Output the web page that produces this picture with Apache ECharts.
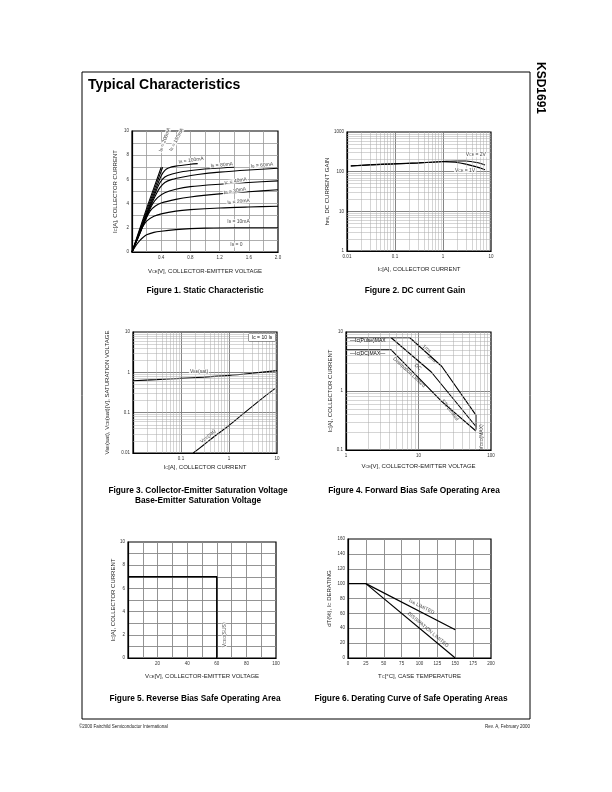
<!DOCTYPE html>
<html><head><meta charset="utf-8">
<script src="https://cdn.jsdelivr.net/npm/echarts/dist/echarts.min.js"></script>
<style>html,body{margin:0;padding:0;background:#fff}#c{width:612px;height:792px}</style>
</head><body><div id="c"></div>
<script>
const FONT = '"Liberation Sans", Arial, Helvetica, sans-serif';

// ---- Figure 1: static characteristic (VCE [V], IC [A]) ----
const ib10  = [[0,0],[0.05,0.5],[0.1,0.9],[0.15,1.2],[0.2,1.42],[0.3,1.62],[0.4,1.72],[0.6,1.85],[0.8,1.93],[1.0,1.97],[1.4,2.0],[2.0,2.0]];
const ib20  = [[0,0],[0.08,1.2],[0.13,1.9],[0.2,2.55],[0.3,2.95],[0.4,3.15],[0.6,3.38],[0.8,3.5],[1.2,3.64],[1.6,3.72],[2.0,3.78]];
const ib30  = [[0,0],[0.1,1.4],[0.18,2.6],[0.25,3.4],[0.32,3.8],[0.4,4.05],[0.6,4.35],[0.8,4.55],[1.2,4.8],[1.6,4.98],[2.0,5.15]];
const ib40  = [[0,0],[0.1,1.45],[0.2,2.9],[0.28,3.95],[0.35,4.5],[0.45,4.9],[0.6,5.18],[0.8,5.4],[1.2,5.6],[1.6,5.75],[2.0,5.88]];
const ib60  = [[0,0],[0.1,1.5],[0.2,3.0],[0.3,4.4],[0.38,5.3],[0.45,5.75],[0.55,6.0],[0.7,6.2],[0.9,6.4],[1.2,6.6],[1.6,6.78],[2.0,6.92]];
const ib80  = [[0,0],[0.1,1.55],[0.2,3.1],[0.3,4.6],[0.38,5.7],[0.45,6.2],[0.55,6.45],[0.7,6.65],[0.9,6.8],[1.1,6.9],[1.4,7.0]];
const ib100 = [[0,0],[0.1,1.6],[0.2,3.2],[0.3,4.8],[0.4,6.3],[0.45,6.75],[0.5,6.95],[0.6,7.1],[0.8,7.25],[0.9,7.3]];
const ib150 = [[0,0],[0.1,1.7],[0.2,3.4],[0.3,5.05],[0.42,7.0]];
const ib200 = [[0,0],[0.1,1.8],[0.2,3.6],[0.3,5.3],[0.4,7.0]];
const fig1Curves = [ib10, ib20, ib30, ib40, ib60, ib80, ib100, ib150, ib200];

// ---- Figure 2: DC current gain ----
const hfe2V = [[0.012,140],[0.03,150],[0.1,158],[0.3,167],[1,180],[2,186],[3,185],[5,170],[7.5,148]];
const hfe1V = [[0.012,139],[0.03,148],[0.1,157],[0.3,165],[1,178],[1.8,172],[3,155],[5,132],[7.5,112]];

// ---- Figure 3: saturation voltages ----
const vbeSat = [[0.01,0.62],[0.03,0.66],[0.1,0.71],[0.3,0.76],[1,0.84],[3,0.95],[10,1.1]];
const vceSat = [[0.18,0.01],[0.3,0.016],[0.5,0.026],[1,0.048],[2,0.095],[5,0.23],[9.2,0.4]];

// ---- Figure 4: forward bias SOA ----
const soa1ms = [[1,8],[7.6,8],[21,2.6],[62,0.39],[62,0.22]];
const soa5ms = [[4.2,8],[15,2.1],[62,0.25]];
const soaDC  = [[1,5],[4.2,5],[21,0.66],[62,0.21]];

// ---- Figure 5: reverse bias SOA ----
const rbsoa = [[0,7],[60,7],[60,0]];

// ---- Figure 6: derating ----
const derSb   = [[0,100],[25,100],[150,38]];
const derDiss = [[25,100],[150,0]];

const G = [
  {left:132, top:131, width:146, height:121},
  {left:347, top:132, width:144, height:119},
  {left:133, top:332, width:144, height:121},
  {left:346, top:332, width:145, height:118},
  {left:128, top:542, width:148, height:116},
  {left:348, top:539, width:143, height:119}
];

const nameRich = {
  n:{fontSize:6, fontFamily:FONT, color:'#222'},
  s:{fontSize:4, fontFamily:FONT, color:'#222', verticalAlign:'bottom'}
};
function axis(o, grid) {
  const base = {
    gridIndex: grid,
    axisLine:{show:true, onZero:false, lineStyle:{color:'#000', width:1.2}},
    axisTick:{show:false},
    axisLabel:{fontSize:4.5, color:'#333', fontFamily:FONT, margin:3},
    splitLine:{show:true, showMinLine:false, showMaxLine:false, lineStyle:{color:'#999', width:0.8}},
    nameLocation:'middle',
    nameTextStyle:{fontSize:6, fontFamily:FONT, color:'#222', rich:nameRich}
  };
  const r = Object.assign({}, base, o);
  if (o.splitLine) r.splitLine = Object.assign({}, base.splitLine, o.splitLine);
  if (o.axisLabel) r.axisLabel = Object.assign({}, base.axisLabel, o.axisLabel);
  return r;
}
const logFmt = v => String(+v.toPrecision(3));
const logSplit = {lineStyle:{color:'#777', width:0.9}};

const xAxis = [
  axis({type:'value', min:0, max:2, interval:0.2, name:'{n|V}{s|CE}{n|[V], COLLECTOR-EMITTER VOLTAGE}', nameGap:16,
        axisLabel:{formatter:v=>{const k=Math.round(v*10);return (k>0&&k%4===0)?(k/10).toFixed(1):'';}}},0),
  axis({type:'log', min:0.01, max:10, name:'{n|I}{s|C}{n|[A], COLLECTOR CURRENT}', nameGap:15, axisLabel:{formatter:logFmt}, splitLine:logSplit},1),
  axis({type:'log', min:0.01, max:10, name:'{n|I}{s|C}{n|[A], COLLECTOR CURRENT}', nameGap:11, axisLabel:{formatter:v=>v<0.05?'':logFmt(v)}, splitLine:logSplit},2),
  axis({type:'log', min:1, max:100, name:'{n|V}{s|CE}{n|[V], COLLECTOR-EMITTER VOLTAGE}', nameGap:13, axisLabel:{formatter:logFmt}, splitLine:logSplit},3),
  axis({type:'value', min:0, max:100, interval:10, name:'{n|V}{s|CE}{n|[V], COLLECTOR-EMITTER VOLTAGE}', nameGap:15,
        axisLabel:{formatter:v=>(v>0&&v%20===0)?String(v):''}, splitLine:{lineStyle:{color:'#888', width:0.9}}},4),
  axis({type:'value', min:0, max:200, interval:25, name:'{n|T}{s|C}{n|[°C], CASE TEMPERATURE}', nameGap:15,
        splitLine:{lineStyle:{color:'#888', width:0.9}}},5)
];
const yAxis = [
  axis({type:'value', min:0, max:10, interval:1, name:'{n|I}{s|C}{n|[A], COLLECTOR CURRENT}', nameGap:14,
        axisLabel:{formatter:v=>v%2===0?String(v):''}},0),
  axis({type:'log', min:1, max:1000, name:'{n|h}{s|FE}{n|, DC CURRENT GAIN}', nameGap:14, axisLabel:{formatter:logFmt}, splitLine:logSplit},1),
  axis({type:'log', min:0.01, max:10, name:'{n|V}{s|BE}{n|(sat), V}{s|CE}{n|(sat)[V], SATURATION VOLTAGE}', nameGap:23, axisLabel:{formatter:logFmt}, splitLine:logSplit},2),
  axis({type:'log', min:0.1, max:10, name:'{n|I}{s|C}{n|[A], COLLECTOR CURRENT}', nameGap:13, axisLabel:{formatter:logFmt}, splitLine:logSplit},3),
  axis({type:'value', min:0, max:10, interval:1, name:'{n|I}{s|C}{n|[A], COLLECTOR CURRENT}', nameGap:11,
        axisLabel:{formatter:v=>v%2===0?String(v):''}, splitLine:{lineStyle:{color:'#888', width:0.9}}},4),
  axis({type:'value', min:0, max:160, interval:20, name:'{n|dT(%), I}{s|C}{n| DERATING}', nameGap:16,
        splitLine:{lineStyle:{color:'#888', width:0.9}}},5)
];

function logMinors(min, max) {
  const out = [];
  for (let e = Math.floor(Math.log10(min)); e < Math.ceil(Math.log10(max)); e++)
    for (let m = 2; m <= 9; m++) { const v = m * Math.pow(10, e); if (v > min*1.0001 && v < max*0.9999) out.push(v); }
  return out;
}
function minorGrid(i, xr, yr) {
  const d = logMinors(xr[0], xr[1]).map(v=>({xAxis:v})).concat(logMinors(yr[0], yr[1]).map(v=>({yAxis:v})));
  return {type:'line', xAxisIndex:i, yAxisIndex:i, data:[], silent:true, z:1,
    markLine:{silent:true, symbol:['none','none'], animation:false, label:{show:false},
      lineStyle:{color:'#aaa', width:0.5, type:'solid'}, data:d}};
}
function curve(i, data, extra) {
  return Object.assign({type:'line', xAxisIndex:i, yAxisIndex:i, data:data, showSymbol:false, symbol:'none', silent:true, z:3,
    lineStyle:{color:'#000', width:1.1}}, extra || {});
}
function labels(i, items) {
  return {type:'scatter', xAxisIndex:i, yAxisIndex:i, symbolSize:0, silent:true, z:6,
    data: items.map(it => ({value:[it[0], it[1]], label:{show:true, position:'inside', formatter:it[2], rotate:it[3]||0,
      fontSize:it[4]||5, fontFamily:FONT, color:'#111', backgroundColor:it[5]===false?'transparent':'#fff', padding:[0,1],
      rich:{s:{fontSize:3.6, fontFamily:FONT, color:'#111', verticalAlign:'bottom'}}}}))};
}

const series = [];
fig1Curves.forEach(c => series.push(curve(0, c, {smooth:0.3})));
series.push(labels(0, [
  [0.45,9.28,'I{s|B} = 200mA',70],[0.61,9.28,'I{s|B} = 150mA',62],[0.81,7.58,'I{s|B} = 100mA',8],
  [1.23,7.2,'I{s|B} = 80mA',5],[1.78,7.18,'I{s|B} = 60mA',5],[1.42,5.86,'I{s|C} = 40mA',10],
  [1.41,5.05,'I{s|B} = 30mA',10],[1.46,4.17,'I{s|B} = 20mA',5],[1.46,2.51,'I{s|B} = 10mA',0],[1.43,0.58,'I{s|B} = 0',0]
]));
series.push(minorGrid(1,[0.01,10],[1,1000]));
series.push(curve(1, hfe2V, {smooth:0.3}), curve(1, hfe1V, {smooth:0.3}));
series.push(labels(1, [[4.83,266,'V{s|CE} = 2V',0],[2.88,108,'V{s|CE} = 1V',0]]));
series.push(minorGrid(2,[0.01,10],[0.01,10]));
series.push(curve(2, vbeSat, {smooth:0.3}), curve(2, vceSat, {smooth:0.3}));
series.push(labels(2, [[0.237,1.03,'V{s|BE}(sat)',0],[0.365,0.026,'V{s|CE}(sat)',40,5,false]]));
series.push(minorGrid(3,[1,100],[0.1,10]));
series.push(curve(3, soa1ms), curve(3, soa5ms), curve(3, soaDC));
series.push(labels(3, [[13,5.2,'1ms',-40,5,false],[15.2,3.54,'5ms',-40,5,false],[9.8,2.55,'DC',-40,5,false],
  [7.4,2.08,'Dissipation Limited',-43,5,false],
  [27.2,0.474,'S/b Limited',-52,5,false],[74,0.166,'V{s|CEO}(MAX)',90,5,false]]));
series.push(curve(4, rbsoa, {lineStyle:{color:'#000', width:1.5}}));
series.push(labels(4, [[65,2,'V{s|CEO}(SUS)',90]]));
series.push(curve(5, derSb, {lineStyle:{color:'#000', width:1.2}}), curve(5, derDiss, {lineStyle:{color:'#000', width:1.2}}));
series.push(labels(5, [[103,69,'I{s|S/b} LIMITED',-27,5,false],[112,38,'DISSIPATION LIMITED',-40,5,false]]));

function txt(x, y, text, size, bold, align, rot, color) {
  return {type:'text', x:x, y:y, rotation:rot||0, silent:true, z:10,
    style:{text:text, fontSize:size, fontWeight:bold?'bold':'normal', fontFamily:FONT, fill:color||'#000',
      align:align||'center', verticalAlign:'middle'}};
}
const graphic = [
  {type:'rect', shape:{x:82, y:72, width:448, height:647}, style:{fill:'none', stroke:'#000', lineWidth:1}, silent:true, z:10},
  txt(88, 85.5, 'Typical Characteristics', 14, true, 'left'),
  txt(540, 88, 'KSD1691', 12, true, 'center', -Math.PI/2),
  txt(205, 291, 'Figure 1. Static Characteristic', 8.3, true),
  txt(415, 291, 'Figure 2. DC current Gain', 8.3, true),
  txt(198, 491, 'Figure 3. Collector-Emitter Saturation Voltage', 8.3, true),
  txt(198, 501, 'Base-Emitter Saturation Voltage', 8.3, true),
  txt(414, 491, 'Figure 4. Forward Bias Safe Operating Area', 8.3, true),
  txt(195, 699, 'Figure 5. Reverse Bias Safe Operating Area', 8.3, true),
  txt(411, 699, 'Figure 6. Derating Curve of Safe Operating Areas', 8.3, true),
  txt(79, 727, '©2000 Fairchild Semiconductor International', 4.5, false, 'left', 0, '#222'),
  txt(530, 727, 'Rev. A, February 2000', 4.5, false, 'right', 0, '#222'),
  {type:'text', x:262, y:337.5, silent:true, z:10, style:{text:'Ic = 10 I{s|B}', fontSize:5, fontFamily:FONT, fill:'#111',
    align:'center', verticalAlign:'middle', backgroundColor:'#fff', borderColor:'#555', borderWidth:0.5, padding:[1,3],
    rich:{s:{fontSize:3.6, fontFamily:FONT, fill:'#111', verticalAlign:'bottom'}}}},
  txt(350, 341, '—Ic(Pulse)MAX', 5, false, 'left'),
  txt(350, 354, '—Ic(DC)MAX—', 5, false, 'left')
];

const chart = echarts.init(document.getElementById('c'), null, {renderer:'canvas'});
chart.setOption({
  animation:false,
  backgroundColor:'#fff',
  grid: G.map(g => Object.assign({show:true, borderColor:'#000', borderWidth:1.2, backgroundColor:'transparent', containLabel:false}, g)),
  xAxis: xAxis, yAxis: yAxis, series: series, graphic: graphic
});
</script></body></html>
